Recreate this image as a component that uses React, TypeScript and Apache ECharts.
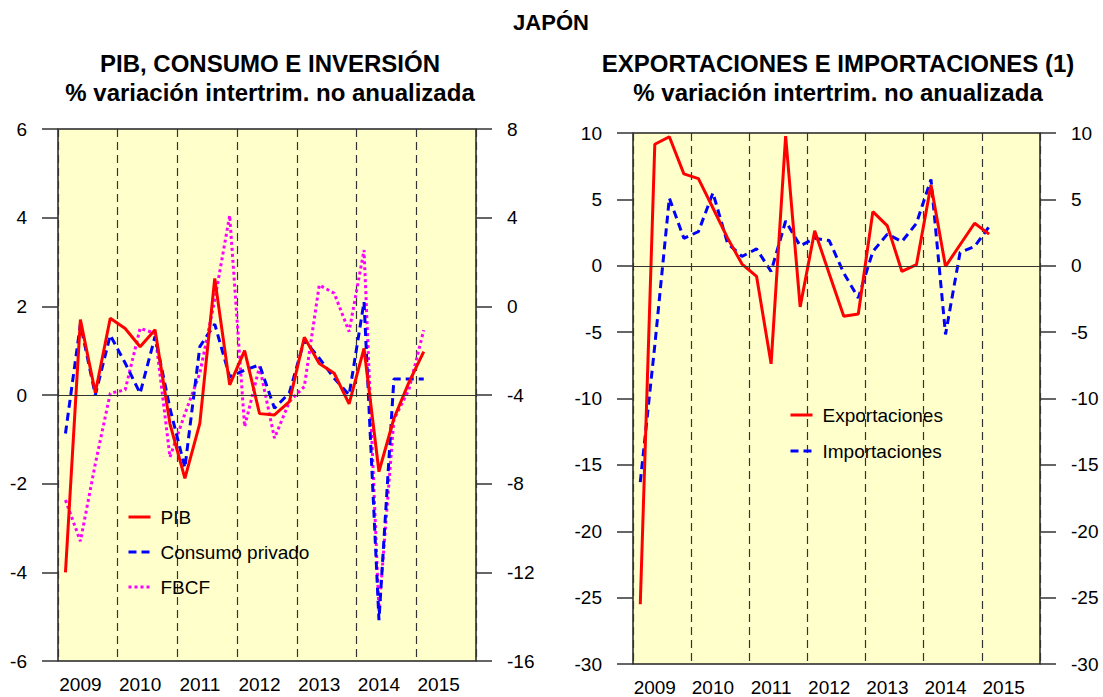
import React, { useEffect, useRef } from 'react';
import * as echarts from 'echarts';

// ---- data ----
const years = ['2009', '2010', '2011', '2012', '2013', '2014', '2015'];
const quarterNames = ['T1', 'T2', 'T3', 'T4'];
const categories = years.flatMap((y) => quarterNames.map((q) => `${y} ${q}`));

// Left panel (% q/q), 2009 T1 .. 2015 T1
const pib = [-4.0, 1.7, 0.05, 1.73, 1.5, 1.09, 1.47, -0.65, -1.88, -0.64, 2.63, 0.23, 1.0, -0.42, -0.45, -0.15, 1.3, 0.71, 0.49, -0.2, 1.05, -1.73, -0.53, 0.28, 0.98];
const consumo = [-0.87, 1.6, 0.0, 1.35, 0.72, 0.04, 1.32, -0.3, -1.64, 1.09, 1.6, 0.41, 0.56, 0.68, -0.3, 0.05, 1.24, 0.83, 0.38, 0.0, 2.1, -5.08, 0.36, 0.36, 0.36];
const fbcf = [-8.74, -10.6, -7.1, -3.92, -3.77, -0.99, -1.22, -6.8, -4.85, -3.02, 0.29, 4.1, -5.43, -2.72, -5.95, -4.3, -3.62, 0.96, 0.59, -1.14, 2.54, -13.75, -5.1, -3.77, -1.07];

// Right panel (% q/q)
const exportaciones = [-25.5, 9.15, 9.72, 6.92, 6.56, 4.35, 2.1, 0.13, -0.8, -7.39, 9.77, -3.1, 2.63, -0.6, -3.8, -3.63, 4.08, 3.0, -0.43, 0.08, 6.09, -0.05, 1.58, 3.2, 2.38];
const importaciones = [-16.3, -6.0, 5.1, 2.07, 2.57, 5.49, 1.7, 0.7, 1.27, -0.43, 3.37, 1.5, 2.07, 1.9, -0.55, -2.42, 1.07, 2.38, 1.82, 3.2, 6.5, -5.17, 1.0, 1.45, 2.94];

const FONT = '"Liberation Sans", Arial, Helvetica, sans-serif';

const RED = '#FF0000';
const BLUE = '#0000FF';
const MAGENTA = '#FF00FF';

function catAxis(gridIndex: number) {
  return {
    type: 'category',
    gridIndex,
    data: categories,
    boundaryGap: true,
    axisLine: { show: false },
    axisTick: { show: false },
    splitLine: { show: false },
    axisLabel: {
      interval: (index: number) => index % 4 === 1,
      formatter: (v: string) => v.split(' ')[0],
      fontSize: 19,
      fontFamily: FONT,
      color: '#000',
      margin: 14,
    },
  };
}

function yearLinesAxis(gridIndex: number) {
  return {
    type: 'value',
    gridIndex,
    min: 0,
    max: 28,
    interval: 4,
    position: 'top',
    axisLine: { show: false },
    axisTick: { show: false },
    axisLabel: { show: false },
    splitLine: { show: true, lineStyle: { color: '#333', width: 1.2, type: [8, 5] } },
  };
}

function valAxis(gridIndex: number, position: string, min: number, max: number, interval: number) {
  return {
    type: 'value',
    gridIndex,
    position,
    min,
    max,
    interval,
    axisLine: { show: false },
    axisTick: { show: true, inside: false, length: 16, lineStyle: { color: '#333', width: 1.5 } },
    axisLabel: { show: true, margin: 31, fontSize: 19, fontFamily: FONT, color: '#000' },
    splitLine: { show: false },
  };
}

const zeroLine = {
  silent: true,
  symbol: ['none', 'none'],
  label: { show: false },
  lineStyle: { color: '#333', width: 1.2, type: 'solid' },
  data: [{ yAxis: 0 }],
};

function lineSeries(name: string, data: number[], color: string, type: any, xAxisIndex: number, yAxisIndex: number, extra: any = {}) {
  return {
    name,
    type: 'line',
    xAxisIndex,
    yAxisIndex,
    data,
    symbol: 'none',
    showSymbol: false,
    lineStyle: { color, width: 3, type },
    itemStyle: { color },
    ...extra,
  };
}

const legendText = { fontSize: 19, fontFamily: FONT, color: '#000', lineHeight: 20, padding: [0, 0, 0, 5] };

function titleText(x: number, y: number, text: string, size: number) {
  return {
    type: 'text',
    x,
    y,
    style: {
      text,
      fontSize: size,
      fontWeight: 'bold',
      fontFamily: FONT,
      fill: '#000',
      textAlign: 'center',
      align: 'center',
      textVerticalAlign: 'middle',
      verticalAlign: 'middle',
    },
  };
}

function legendBlock(names: string[], left: number, top: number, gap: number) {
  return {
    data: names,
    orient: 'vertical',
    left,
    top,
    padding: 0,
    itemWidth: 22,
    itemHeight: 14,
    itemGap: gap,
    textStyle: legendText,
    selectedMode: false,
    itemStyle: { opacity: 0, borderWidth: 0 },
    lineStyle: { width: 3 },
  };
}

export default function App() {
  const ref = useRef<HTMLDivElement>(null);

  useEffect(() => {
    if (!ref.current) return;
    const chart = echarts.init(ref.current, undefined, { renderer: 'svg' });
    const option: any = {
      animation: false,
      backgroundColor: '#FFFFFF',
      textStyle: { fontFamily: FONT },
      grid: [
        { left: 58, top: 129, width: 418, height: 532, show: true, backgroundColor: '#FFFFCC', borderColor: '#222', borderWidth: 1.5 },
        { left: 633, top: 133, width: 407, height: 534, show: true, backgroundColor: '#FFFFCC', borderColor: '#222', borderWidth: 1.5 },
      ],
      xAxis: [catAxis(0), yearLinesAxis(0), catAxis(1), yearLinesAxis(1)],
      yAxis: [
        valAxis(0, 'left', -6, 6, 2),
        valAxis(0, 'right', -16, 8, 4),
        valAxis(1, 'left', -30, 10, 5),
        valAxis(1, 'right', -30, 10, 5),
      ],
      legend: [
        legendBlock(['PIB', 'Consumo privado', 'FBCF'], 127, 507, 15),
        legendBlock(['Exportaciones', 'Importaciones'], 789, 405, 16),
      ],
      series: [
        lineSeries('FBCF', fbcf, MAGENTA, [3, 3], 0, 1),
        lineSeries('Consumo privado', consumo, BLUE, [8, 5], 0, 0),
        lineSeries('PIB', pib, RED, 'solid', 0, 0, { markLine: zeroLine }),
        lineSeries('Importaciones', importaciones, BLUE, [8, 5], 2, 2),
        lineSeries('Exportaciones', exportaciones, RED, 'solid', 2, 2, { markLine: zeroLine }),
      ],
      graphic: [
        titleText(551, 22, 'JAPÓN', 22),
        titleText(270, 63, 'PIB, CONSUMO E INVERSIÓN', 24),
        titleText(270, 92, '% variación intertrim. no anualizada', 24),
        titleText(838, 63, 'EXPORTACIONES E IMPORTACIONES (1)', 24),
        titleText(838, 92, '% variación intertrim. no anualizada', 24),
      ],
    };
    chart.setOption(option);
    return () => chart.dispose();
  }, []);

  return (
    <div
      ref={ref}
      style={{ position: 'absolute', left: 0, top: 0, width: 1103, height: 697 }}
    />
  );
}
